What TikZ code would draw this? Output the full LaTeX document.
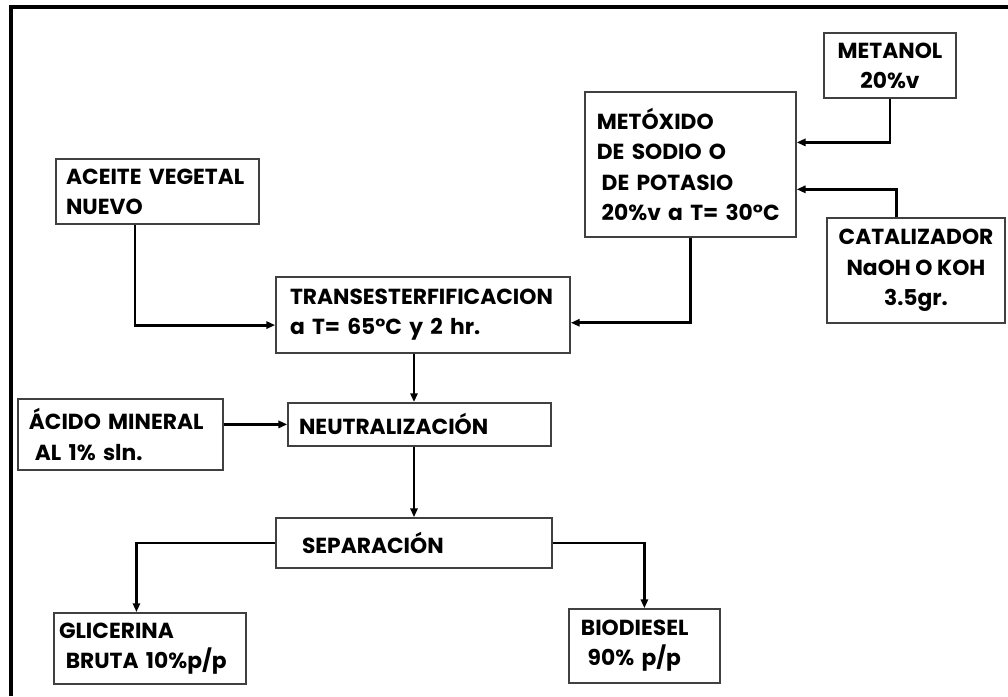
\documentclass[tikz,border=0pt]{standalone}
\usepackage{fontspec}
\setmainfont{Poppins}
\usetikzlibrary{arrows.meta, calc}

\begin{document}
\begin{tikzpicture}[>={Triangle[length=2.2mm,width=1.8mm]}, line width=2pt,
  caja/.style={draw=black!75, line width=1.2pt, inner xsep=0.3cm, inner ysep=0pt,
    align=left, font=\bfseries\fontsize{15.5}{21.5}\selectfont},
  centrada/.style={caja, align=center}]
  \useasboundingbox (0,0) rectangle (25.2,17.4);
  % marco: solo borde superior e izquierdo
  \draw[line width=2.2pt] (0.275,0) -- (0.275,17.225) -- (25.2,17.225);
  % materias primas (arriba)
  \node[centrada, minimum width=3.3cm, minimum height=1.625cm] (metanol) at (22.25,15.76) {METANOL\\20\%v};
  \node[caja, text width=4.675cm, minimum height=3.625cm] (metoxido) at (17.26,13.29)
    {METÓXIDO\\DE~SODIO~O\\\hspace{0.12cm}DE~POTASIO\\\hspace{0.12cm}20\%v~a~T=~30°C};
  \node[centrada, minimum width=4.45cm, minimum height=2.625cm] (catalizador) at (22.9,10.64)
    {CATALIZADOR\\NaOH O KOH\\3.5gr.};
  \node[caja, inner xsep=0.25cm, text width=4.575cm, minimum height=1.625cm] (aceite) at (3.94,12.61)
    {ACEITE~VEGETAL\\NUEVO};
  % proceso
  \node[caja, inner xsep=0.35cm, text width=6.65cm, minimum height=1.9cm] (trans) at (10.575,9.525)
    {TRANSESTERFIFICACION\\a~T=~65°C~y~2~hr.};
  \node[caja, inner xsep=0.275cm, text width=4.575cm, minimum height=1.775cm] (acido) at (3.01,6.54)
    {ÁCIDO~MINERAL\\\hspace{0.15cm}AL~1\%~sln.};
  \node[caja, inner xsep=0.275cm, text width=6.025cm, minimum height=1.075cm] (neutral) at (10.49,6.79) {NEUTRALIZACIÓN};
  \node[caja, inner xsep=0.65cm, text width=5.6cm, minimum height=1.25cm] (separacion) at (10.35,3.825) {SEPARACIÓN};
  % productos
  \node[caja, inner xsep=0.125cm, text width=4.55cm, minimum height=1.775cm] (glicerina) at (3.75,1.19)
    {GLICERINA\\\hspace{0.17cm}BRUTA~10\%p/p};
  \node[caja, text width=3.175cm, minimum height=1.85cm] (biodiesel) at (16.11,1.25)
    {BIODIESEL\\\hspace{0.17cm}90\%~p/p};
  % puntos de entrada/salida
  \coordinate (entA) at ($(metoxido.north east)!0.35!(metoxido.south east)$);
  \coordinate (entB) at ($(metoxido.north east)!0.67!(metoxido.south east)$);
  \coordinate (salC) at ($(catalizador.north west)!0.39!(catalizador.north east)$);
  \coordinate (salA) at ($(aceite.south west)!0.39!(aceite.south east)$);
  \coordinate (entT) at ($(trans.north east)!0.6!(trans.south east)$);
  \coordinate (entT2) at ($(trans.north west)!0.63!(trans.south west)$);
  \coordinate (entG) at ($(glicerina.north west)!0.43!(glicerina.north east)$);
  % conectores
  \draw[->] (metanol.south) |- (entA);
  \draw[->] (salC) |- (entB);
  \draw[->] (metoxido.south) |- (entT);
  \draw[->] (salA) |- (entT2);
  \draw[->] (trans.south -| separacion) -- (neutral.north -| separacion);
  \draw[->] (acido.east |- neutral) -- (neutral.west);
  \draw[->] (neutral.south -| separacion) -- (separacion.north);
  \draw[->] (separacion.west) -| (entG);
  \draw[->] (separacion.east) -| (biodiesel.north);
\end{tikzpicture}
\end{document}
